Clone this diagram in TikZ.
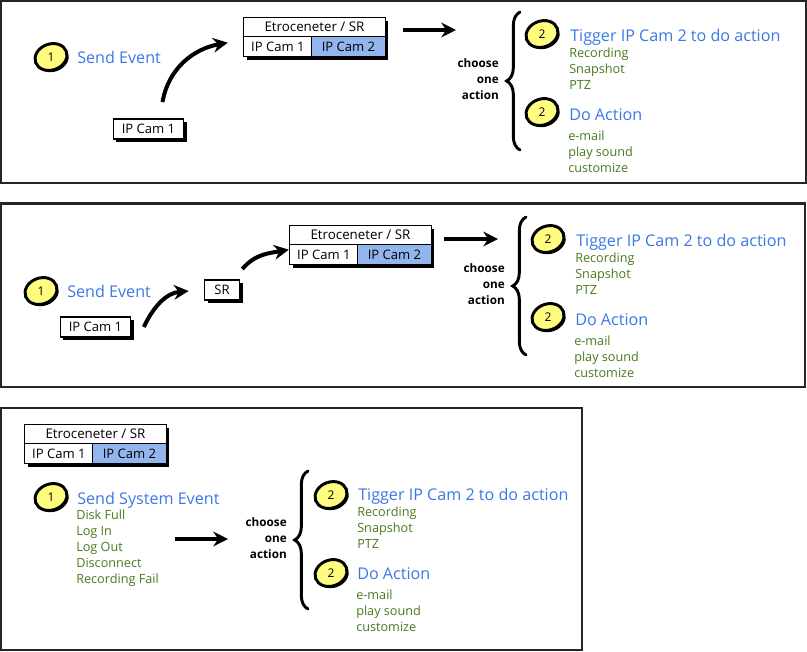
\documentclass[tikz,border=0pt]{standalone}
\usepackage{fontspec}
\setmainfont{Open Sans}
\usetikzlibrary{positioning,arrows.meta,shapes.geometric,shadows,decorations.pathreplacing}
\definecolor{headblue}{HTML}{3B78E7}
\definecolor{itemgreen}{HTML}{4A7A1E}
\definecolor{cellblue}{HTML}{93B5EE}
\definecolor{badgeyellow}{HTML}{FFFC80}

\begin{document}
\begin{tikzpicture}[
  x=0.75pt,y=-0.75pt,
  panel/.style={draw=black!85,line width=1.9pt,fill=white},
  hardshadow/.style={drop shadow={shadow xshift=2.4pt,shadow yshift=-2.4pt,fill=black,opacity=1}},
  cell/.style={draw=black,line width=0.9pt,fill=white,hardshadow,inner sep=0pt,outer sep=0pt,minimum height=15pt,font=\fontsize{9.8}{11}\selectfont},
  header/.style={cell,minimum width=106pt,minimum height=14.5pt,font=\fontsize{10}{11}\selectfont},
  cam/.style={cell,minimum width=51pt},
  camon/.style={cam,fill=cellblue,minimum width=55pt},
  badge/.style={ellipse,draw=black,line width=2.2pt,fill=badgeyellow,rotate=20,inner sep=0pt,minimum width=24.5pt,minimum height=19.5pt,font=\fontsize{9}{11}\selectfont,
    drop shadow={shadow xshift=1.3pt,shadow yshift=-1.3pt,fill=black,opacity=1}},
  head/.style={anchor=west,inner sep=0pt,text height=9pt,text depth=3pt,text=headblue,font=\fontsize{12.1}{14}\selectfont},
  items/.style={anchor=north west,inner sep=0pt,align=left,text=itemgreen,font=\fontsize{9.5}{12}\selectfont},
  choice/.style={anchor=east,inner sep=0pt,align=right,font=\fontsize{8.8}{12}\selectfont\bfseries},
  arr/.style={-{Stealth[length=11pt,width=11pt]},line width=3pt},
  bracket/.style={line width=2.2pt,line cap=round,decorate,decoration={brace,amplitude=10pt}}
]
\useasboundingbox (0,0) rectangle (807,651);

% first panel
\draw[panel] (1,1) rectangle (806,183);
\node[badge] (one1) at (51,57) {\rotatebox{-20}{1}};
\node[head] (send1) at (77,59) {Send Event};
\node[cell,minimum width=53pt] (src1) at (148.5,129) {IP Cam 1};
\node[header] (tab1) at (314.5,27) {Etroceneter / SR};
\node[cam,below=0pt of tab1.south west,anchor=north west] (cama1) {IP Cam 1};
\node[camon,right=0pt of cama1] (camb1) {IP Cam 2};
\coordinate (end1) at (456,30);
\node[choice] (pick1) at (499,79) {choose\\one\\action};
\draw[bracket] (520,150) -- (520,12);
\node[badge] (two1) at (542,34) {\rotatebox{-20}{2}};
\node[head] (trig1) at (570,37) {Tigger IP Cam 2 to do action};
\node[items] (rec1) at (569,48) {Recording\\Snapshot\\PTZ};
\node[badge] (three1) at (542,112) {\rotatebox{-20}{2}};
\node[head] (act1) at (569,116) {Do Action};
\node[items] (mail1) at (568,131) {e-mail\\play sound\\customize};
\draw[arr] ([shift={(14,-17)}]src1.north) to[out=80,in=190] ([shift={(-16,-4)}]cama1.west);
\draw[arr] ([shift={(18,3)}]tab1.east) -- (end1);

% second panel
\draw[panel] (1,203.5) rectangle (805,387);
\node[badge] (one2) at (41,291) {\rotatebox{-20}{1}};
\node[head] (send2) at (67,293) {Send Event};
\node[cell,minimum width=53pt] (src2) at (95.5,327) {IP Cam 1};
\node[cell,minimum width=26pt] (sr2) at (222,290) {SR};
\node[header] (tab2) at (360.5,235) {Etroceneter / SR};
\node[cam,below=0pt of tab2.south west,anchor=north west] (cama2) {IP Cam 1};
\node[camon,right=0pt of cama2] (camb2) {IP Cam 2};
\coordinate (end2) at (498,239);
\node[choice] (pick2) at (505,284) {choose\\one\\action};
\draw[bracket] (526,355) -- (526,217);
\node[badge] (two2) at (548,239) {\rotatebox{-20}{2}};
\node[head] (trig2) at (576,242) {Tigger IP Cam 2 to do action};
\node[items] (rec2) at (575,253) {Recording\\Snapshot\\PTZ};
\node[badge] (three2) at (548,317) {\rotatebox{-20}{2}};
\node[head] (act2) at (575,321) {Do Action};
\node[items] (mail2) at (574,336) {e-mail\\play sound\\customize};
\draw[arr] ([shift={(13,0)}]src2.east) to[out=65,in=185] ([shift={(-16,1)}]sr2.west);
\draw[arr] ([shift={(3,-21)}]sr2.east) to[out=50,in=190] ([shift={(-1,-5)}]cama2.west);
\draw[arr] ([shift={(13,4)}]tab2.east) -- (end2);

% third panel
\draw[panel] (1,408) rectangle (582,650);
\node[header] (tab3) at (95.5,434) {Etroceneter / SR};
\node[cam,below=0pt of tab3.south west,anchor=north west] (cama3) {IP Cam 1};
\node[camon,right=0pt of cama3] (camb3) {IP Cam 2};
\node[badge] (one3) at (51,497) {\rotatebox{-20}{1}};
\node[head] (send3) at (77,500) {Send System Event};
\node[items] (sys3) at (76,510) {Disk Full\\Log In\\Log Out\\Disconnect\\Recording Fail};
\coordinate (start3) at (175,539);
\coordinate (end3) at (228,539);
\node[choice] (pick3) at (287,538) {choose\\one\\action};
\draw[bracket] (308,609) -- (308,471);
\node[badge] (two3) at (331,495) {\rotatebox{-20}{2}};
\node[head] (trig3) at (358,496) {Tigger IP Cam 2 to do action};
\node[items] (rec3) at (357,507) {Recording\\Snapshot\\PTZ};
\node[badge] (three3) at (331,573) {\rotatebox{-20}{2}};
\node[head] (act3) at (357,575) {Do Action};
\node[items] (mail3) at (356,590) {e-mail\\play sound\\customize};
\draw[arr] (start3) -- (end3);
\end{tikzpicture}
\end{document}
